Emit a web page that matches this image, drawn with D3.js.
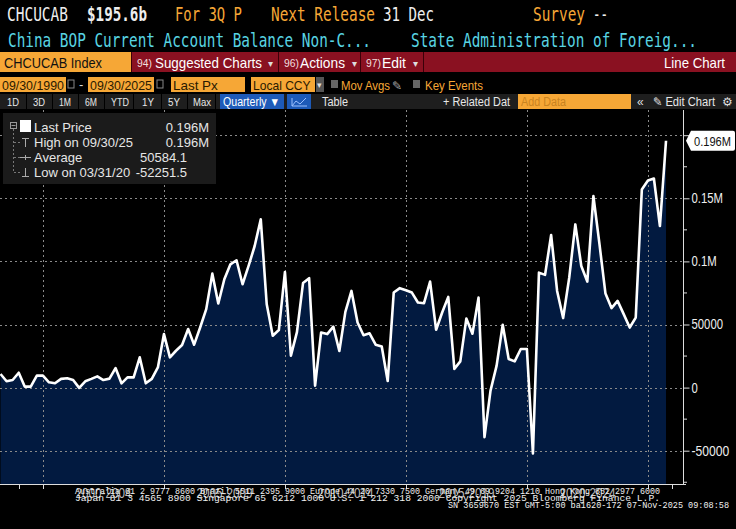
<!DOCTYPE html>
<html>
<head>
<meta charset="utf-8">
<script src="https://cdn.jsdelivr.net/npm/d3@7"></script>
<style>
html, body { margin: 0; padding: 0; background: #000; overflow: hidden; }
svg { display: block; }
text { font-family: "Liberation Sans", Arial, sans-serif; }
</style>
</head>
<body>
<script>
// quarterly values, first point is 1998 Q1 (quarter end dates)
const firstYear = 1998;
const currentAccount = [
  10800, 5000, 6000, 11800, 800, 800, 9500, 9500,
  4200, 3400, 6900, 7400, 6000, -200, 5000, 6900,
  8900, 6000, 7100, 15500, 3400, 8100, 8100, 24000,
  3400, 6900, 16000, 42400, 24000, 29200, 33700, 46400,
  34000, 47600, 62200, 90300, 66600, 85900, 97700, 100900,
  81900, 96400, 112200, 133300, 66000, 41100, 45600, 91600,
  25300, 44000, 82800, 86700, 1600, 43700, 42400, 48300,
  29000, 60000, 76600, 51600, 41500, 43000, 34000, 32600,
  5200, 75300, 78800, 77200, 75300, 67400, 66900, 84000,
  45800, 59500, 71900, 14800, 20800, 54700, 42700, 71300,
  -39300, -2400, 17400, 49800, 22700, 20800, 30600, 30600,
  -52251.5, 91100, 89300, 120900, 76600, 55100, 87100, 129300,
  96400, 84000, 151700, 113500, 74500, 63000, 68700, 58200,
  47600, 55500, 157000, 164100, 165700, 128000, 195600
];
const yTickValues = [-50000, 0, 50000, 100000, 150000, 200000];
const yTickLabels = ["-50000", "0", "50000", "0.1M", "0.15M", ""];
const xGridYears = [2000, 2005, 2010, 2015, 2020, 2025];
const xBinLabels = ["2000-2004", "2005-2009", "2010-2014", "2015-2019", "2020-2024"];
const periodButtons = ["1D", "3D", "1M", "6M", "YTD", "1Y", "5Y", "Max"];
const legendNames = ["Last Price", "High on 09/30/25", "Average", "Low on 03/31/20"];
const legendValues = ["0.196M", "0.196M", "50584.1", "-52251.5"];
const lastLabel = "0.196M";

const W = 736, H = 529;
const plot = { left: 0, right: 683, top: 110, bottom: 484 };

const orange = "#f6a736", cyan = "#58d4e2", red = "#8a1121";

const svg = d3.select("body").append("svg").attr("width", W).attr("height", H);
svg.append("rect").attr("width", W).attr("height", H).attr("fill", "#000");

// helper for squeezed text
function txt(g, s, x, y, opt) {
  opt = opt || {};
  const t = g.append("text").attr("x", x).attr("y", y).text(s)
    .attr("fill", opt.fill || "#eee")
    .attr("font-size", opt.size || 13);
  if (opt.family) t.style("font-family", opt.family);
  if (opt.weight) t.attr("font-weight", opt.weight);
  if (opt.anchor) t.attr("text-anchor", opt.anchor);
  if (opt.len) t.attr("textLength", opt.len).attr("lengthAdjust", "spacingAndGlyphs");
  return t;
}

// ---------- header ----------
const head = svg.append("g");
const mono = '"DejaVu Sans Mono", "Liberation Mono", monospace';
txt(head, "CHCUCAB", 7, 21, { family: mono, size: 19, len: 61 });
txt(head, "$195.6b", 87, 21, { family: mono, size: 19, len: 60, weight: "bold" });
txt(head, "For 3Q P", 175, 21, { family: mono, size: 19, len: 67, fill: orange });
txt(head, "Next Release", 271, 21, { family: mono, size: 19, len: 104, fill: orange });
txt(head, "31 Dec", 383, 21, { family: mono, size: 19, len: 51 });
txt(head, "Survey", 533, 21, { family: mono, size: 19, len: 52, fill: orange });
txt(head, "--", 593, 21, { family: mono, size: 19, len: 15 });
txt(head, "China BOP Current Account Balance Non-C...", 8, 47, { family: mono, size: 19, len: 363, fill: cyan });
txt(head, "State Administration of Foreig...", 411, 47, { family: mono, size: 19, len: 286, fill: cyan });

// red toolbar
head.append("rect").attr("x", 0).attr("y", 52).attr("width", W).attr("height", 20).attr("fill", red);
head.append("rect").attr("x", 0).attr("y", 52).attr("width", 131).attr("height", 20).attr("fill", orange);
txt(head, "CHCUCAB Index", 4, 68, { size: 15, len: 98, fill: "#111" });
[131, 278, 360, 423].forEach(x => {
  head.append("line").attr("x1", x + 0.5).attr("x2", x + 0.5).attr("y1", 52).attr("y2", 72).attr("stroke", "#3a0008");
});
const menu = [
  { n: "94)", x: 137, label: "Suggested Charts", lx: 155, lw: 107, a: 268 },
  { n: "96)", x: 284, label: "Actions", lx: 300, lw: 45, a: 352 },
  { n: "97)", x: 366, label: "Edit", lx: 382, lw: 24, a: 413 }
];
menu.forEach(m => {
  txt(head, m.n, m.x, 67, { size: 11, len: 15, fill: "#f2dede" });
  txt(head, m.label, m.lx, 68, { size: 15, len: m.lw, fill: "#fff" });
  txt(head, "\u25BE", m.a, 67, { size: 10, fill: "#ddd" });
});
txt(head, "Line Chart", 725, 68, { size: 15, len: 61, fill: "#fff", anchor: "end" });

// row with date boxes
const boxes = [
  { x: 0, w: 66, s: "09/30/1990" },
  { x: 88, w: 66, s: "09/30/2025" },
  { x: 171, w: 74, s: "Last Px" },
  { x: 251, w: 64, s: "Local CCY" }
];
boxes.forEach(b => {
  head.append("rect").attr("x", b.x).attr("y", 77).attr("width", b.w).attr("height", 15).attr("fill", orange);
  txt(head, b.s, b.x + 2, 89.5, { size: 13, len: Math.min(b.w - 4, b.s.length * 6.4), fill: "#2a1a00" });
});
[68, 157].forEach(x => {
  head.append("rect").attr("x", x).attr("y", 80).attr("width", 6).attr("height", 8).attr("fill", "none").attr("stroke", "#888");
});
txt(head, "-", 79, 89, { size: 13, fill: "#ddd" });
head.append("rect").attr("x", 316).attr("y", 77).attr("width", 8).attr("height", 15).attr("fill", "#555");
txt(head, "\u25BE", 317, 88, { size: 9, fill: "#ddd" });
head.append("rect").attr("x", 331).attr("y", 80).attr("width", 7).attr("height", 8).attr("fill", "#666");
txt(head, "Mov Avgs", 341, 89.5, { size: 13, len: 49, fill: orange });
txt(head, "\u270E", 392, 89.5, { size: 12, fill: "#aaa" });
head.append("rect").attr("x", 413).attr("y", 80).attr("width", 7).attr("height", 8).attr("fill", "#666");
txt(head, "Key Events", 425, 89.5, { size: 13, len: 58, fill: orange });

// period row
head.append("rect").attr("x", 0).attr("y", 94).attr("width", W).attr("height", 15).attr("fill", "#1e1e1e");
const btnCenters = [13, 39, 65, 91, 120, 148, 174, 202];
periodButtons.forEach((p, i) => {
  txt(head, p, btnCenters[i], 105.5, { size: 11.5, anchor: "middle", len: p.length * 6, fill: "#e8e8e8" });
  head.append("line").attr("x1", btnCenters[i] + 13.5).attr("x2", btnCenters[i] + 13.5)
    .attr("y1", 94).attr("y2", 109).attr("stroke", "#000");
});
head.append("rect").attr("x", 220).attr("y", 94).attr("width", 64).attr("height", 15).attr("fill", "#1d5ab8");
txt(head, "Quarterly \u25BC", 223, 105.5, { size: 12, len: 57, fill: "#fff" });
head.append("rect").attr("x", 287).attr("y", 94).attr("width", 24).attr("height", 15).attr("fill", "#1d5ab8");
head.append("path").attr("d", "M292,106 L296,101 L300,104 L306,98 M292,98 V106 H307")
  .attr("fill", "none").attr("stroke", "#9cc0ff").attr("stroke-width", 1);
txt(head, "Table", 322, 105.5, { size: 12, len: 26, fill: "#e8e8e8" });
txt(head, "+ Related Dat", 443, 105.5, { size: 12, len: 67, fill: "#e8e8e8" });
head.append("rect").attr("x", 518).attr("y", 94).attr("width", 113).attr("height", 15).attr("fill", orange);
txt(head, "Add Data", 521, 105.5, { size: 12, len: 45, fill: "#c98320" });
txt(head, "\u00AB", 637, 105.5, { size: 12, fill: "#ddd" });
txt(head, "\u270E Edit Chart", 653, 105.5, { size: 12, len: 62, fill: "#e8e8e8" });
txt(head, "\u2699", 722, 106, { size: 12, fill: "#ddd" });

// ---------- chart ----------
const dates = currentAccount.map((v, i) => new Date(firstYear, 3 + 3 * i, 0));

const x = d3.scaleTime()
  .domain([new Date(2000, 0, 1), new Date(2025, 0, 1)])
  .range([43, 648]);
const y = d3.scaleLinear()
  .domain([-50000, 150000])
  .range([450.7, 198.3]);

const chart = svg.append("g");
chart.append("defs").append("clipPath").attr("id", "clip")
  .append("rect").attr("x", plot.left).attr("y", plot.top)
  .attr("width", plot.right - plot.left).attr("height", plot.bottom - plot.top);

const area = d3.area()
  .x((d, i) => x(dates[i]))
  .y0(plot.bottom)
  .y1(d => y(d));
const line = d3.line()
  .x((d, i) => x(dates[i]))
  .y(d => y(d));

chart.append("path").datum(currentAccount)
  .attr("clip-path", "url(#clip)")
  .attr("d", area)
  .attr("fill", "#021a40");

// dotted grid
chart.selectAll(".hgrid").data(yTickValues).join("line")
  .attr("x1", plot.left).attr("x2", plot.right)
  .attr("y1", d => Math.round(y(d)) + 0.5).attr("y2", d => Math.round(y(d)) + 0.5)
  .attr("stroke", "#8a8a8a").attr("stroke-dasharray", "2,3").attr("stroke-width", 1);
chart.selectAll(".vgrid").data(xGridYears).join("line")
  .attr("x1", d => Math.round(x(new Date(d, 0, 1))) + 0.5)
  .attr("x2", d => Math.round(x(new Date(d, 0, 1))) + 0.5)
  .attr("y1", plot.top).attr("y2", plot.bottom)
  .attr("stroke", "#8a8a8a").attr("stroke-dasharray", "2,3").attr("stroke-width", 1);

chart.append("path").datum(currentAccount)
  .attr("clip-path", "url(#clip)")
  .attr("d", line)
  .attr("fill", "none")
  .attr("stroke", "#fff")
  .attr("stroke-width", 2.6)
  .attr("stroke-linejoin", "round");

// right axis
const yAxis = d3.axisRight(y)
  .tickValues(yTickValues)
  .tickSize(6)
  .tickFormat((d, i) => yTickLabels[i]);
const ga = svg.append("g").attr("transform", `translate(${plot.right + 0.5},0)`).call(yAxis);
ga.select(".domain").remove();
ga.selectAll(".tick line").attr("stroke", "#ddd");
ga.selectAll(".tick text").attr("fill", "#eee").attr("font-size", 14)
  .attr("x", 8)
  .style("font-family", '"Liberation Sans", Arial, sans-serif')
  .each(function (d, i) {
    const s = yTickLabels[i];
    if (s) d3.select(this).attr("textLength", s.length * 6.3).attr("lengthAdjust", "spacingAndGlyphs");
  });
const minorTicks = yTickValues.map(v => v - 25000);
svg.selectAll(".minor").data(minorTicks).join("line")
  .attr("x1", plot.right).attr("x2", plot.right + 4)
  .attr("y1", d => y(d)).attr("y2", d => y(d))
  .attr("stroke", "#ddd");
svg.append("line").attr("x1", plot.right + 0.5).attr("x2", plot.right + 0.5)
  .attr("y1", plot.top).attr("y2", plot.bottom).attr("stroke", "#ddd");

// bottom axis line and ticks
svg.append("line").attr("x1", 0).attr("x2", 686).attr("y1", plot.bottom + 0.5).attr("y2", plot.bottom + 0.5)
  .attr("stroke", "#ddd");
const tickYears = [1999].concat(xGridYears, [2026]);
svg.selectAll(".xt").data(tickYears).join("line")
  .attr("x1", d => Math.round(x(new Date(d, 0, 1))) + 0.5)
  .attr("x2", d => Math.round(x(new Date(d, 0, 1))) + 0.5)
  .attr("y1", plot.bottom).attr("y2", plot.bottom + 5)
  .attr("stroke", "#ddd");
svg.selectAll(".xl").data(xBinLabels).join("text")
  .attr("x", (d, i) => (x(new Date(xGridYears[i], 0, 1)) + x(new Date(xGridYears[i + 1], 0, 1))) / 2)
  .attr("y", 498)
  .attr("text-anchor", "middle")
  .attr("fill", "#bdbdbd")
  .attr("font-size", 14)
  .attr("textLength", 56).attr("lengthAdjust", "spacingAndGlyphs")
  .text(d => d);

// last value tag
const lastY = y(currentAccount[currentAccount.length - 1]);
svg.append("path")
  .attr("d", `M${plot.right + 3},${lastY} L${plot.right + 8},${lastY - 10} H733 Q735,${lastY - 10} 735,${lastY - 8} V${lastY + 8} Q735,${lastY + 10} 733,${lastY + 10} H${plot.right + 8} Z`)
  .attr("fill", "#fff");
txt(svg, lastLabel, 694, lastY + 5, { size: 13.5, len: 37, fill: "#111" });

// ---------- legend ----------
const lg = svg.append("g");
lg.append("rect").attr("x", 3).attr("y", 113).attr("width", 213).attr("height", 71).attr("fill", "#1b1b1b");
const rowY = [132, 147, 162, 177];
lg.append("rect").attr("x", 10.5).attr("y", 122.5).attr("width", 6).attr("height", 6).attr("fill", "none").attr("stroke", "#999");
lg.append("line").attr("x1", 11.5).attr("x2", 15.5).attr("y1", 125.5).attr("y2", 125.5).attr("stroke", "#999");
lg.append("line").attr("x1", 13.5).attr("x2", 13.5).attr("y1", 129).attr("y2", 173).attr("stroke", "#777").attr("stroke-dasharray", "2,2");
lg.append("rect").attr("x", 20).attr("y", 120).attr("width", 11).attr("height", 12).attr("fill", "#fff");
rowY.slice(1).forEach((ry, i) => {
  lg.append("line").attr("x1", 14).attr("x2", 20).attr("y1", ry - 4.5).attr("y2", ry - 4.5).attr("stroke", "#777").attr("stroke-dasharray", "2,2");
});
// high, average, low icons
lg.append("path").attr("d", `M22,${138.5} H29 M25.5,138.5 V147`).attr("stroke", "#aaa").attr("fill", "none");
lg.append("path").attr("d", `M20,157.5 H31 M25.5,155 V160`).attr("stroke", "#aaa").attr("fill", "none");
lg.append("path").attr("d", `M22,176.5 H29 M25.5,168 V176.5`).attr("stroke", "#aaa").attr("fill", "none");
legendNames.forEach((n, i) => {
  txt(lg, n, 34, rowY[i], { size: 13, fill: "#e6e6e6" });
  txt(lg, legendValues[i], i < 2 ? 209 : 187, rowY[i], { size: 13, fill: "#e6e6e6", anchor: "end" });
});

// ---------- footer ----------
const ft = svg.append("g");
const fmono = '"Liberation Mono", "DejaVu Sans Mono", monospace';
txt(ft, "Australia 61 2 9777 8600 Brazil 5511 2395 9000 Europe 44 20 7330 7500 Germany 49 69 9204 1210 Hong Kong 852 2977 6000",
  75, 494, { family: fmono, size: 9, len: 585, fill: "#f2f2f2" });
txt(ft, "Japan 81 3 4565 8900       Singapore 65 6212 1000       U.S. 1 212 318 2000       Copyright 2025 Bloomberg Finance L.P.",
  75, 501, { family: fmono, size: 9, len: 585, fill: "#f2f2f2" });
txt(ft, "SN 3659670 EST  GMT-5:00 ba1620-172 07-Nov-2025 09:08:58",
  448, 508, { family: fmono, size: 9, len: 281, fill: "#f2f2f2" });
</script>
</body>
</html>
